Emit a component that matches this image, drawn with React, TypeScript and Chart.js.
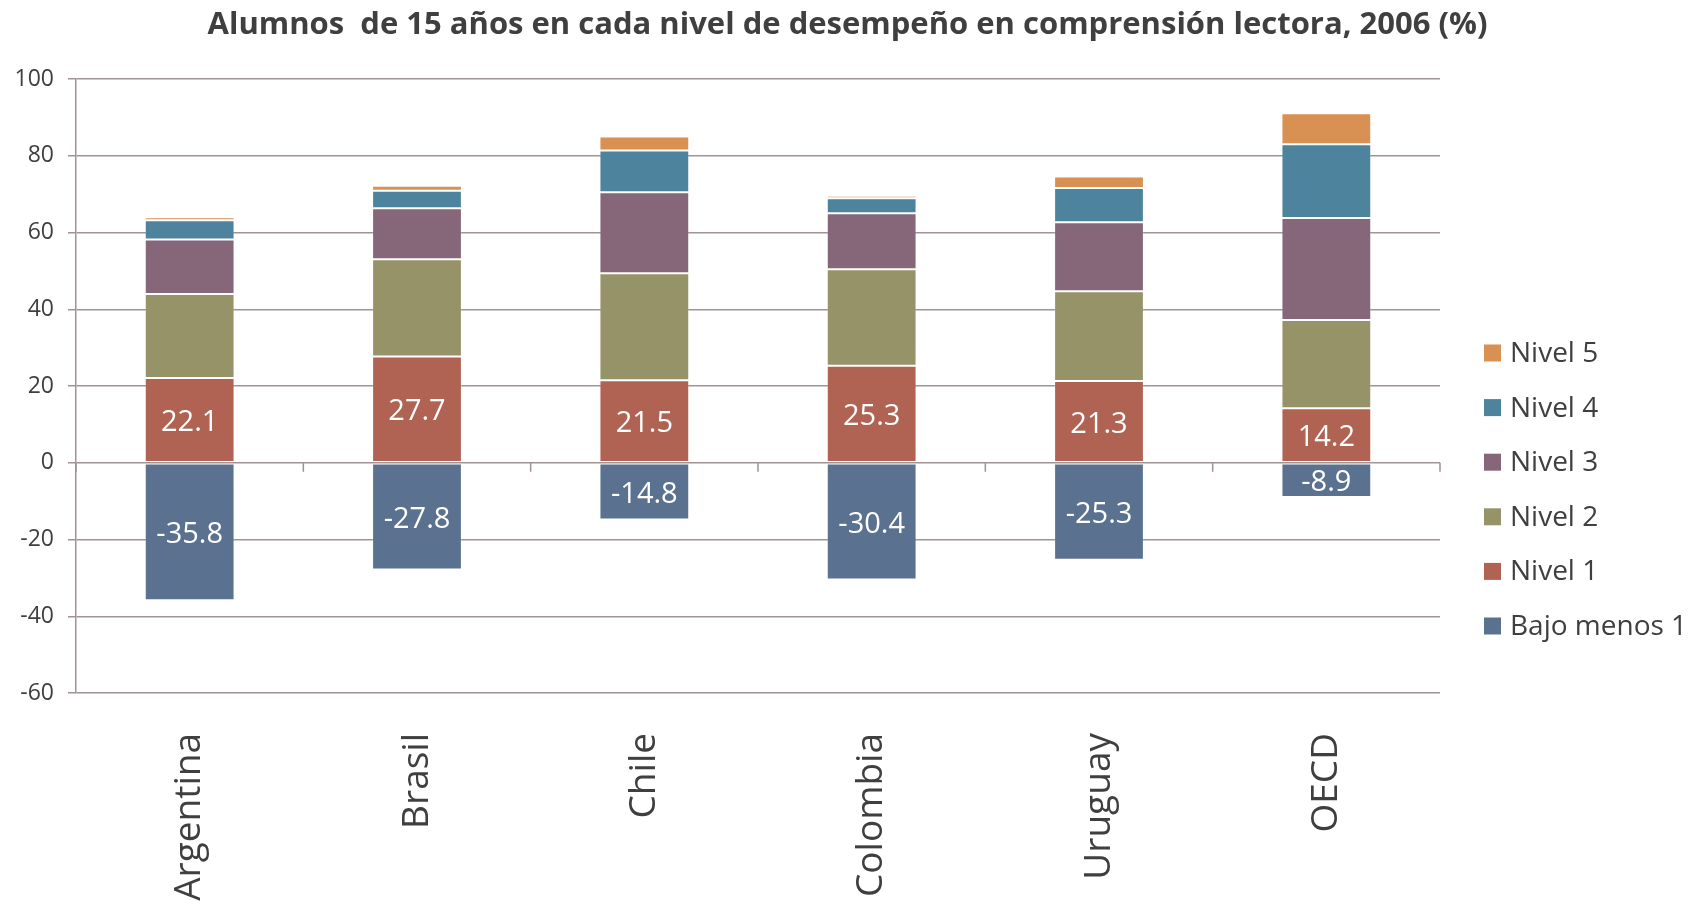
import React, { useEffect, useRef } from "react";
import { Chart, registerables } from "chart.js";
Chart.register(...registerables);

const categories = ["Argentina", "Brasil", "Chile", "Colombia", "Uruguay", "OECD"];
const bajoMenos1 = [-35.8, -27.8, -14.8, -30.4, -25.3, -8.9];
const nivel1 = [22.1, 27.7, 21.5, 25.3, 21.3, 14.2];
const nivel2 = [21.9, 25.3, 27.9, 25.1, 23.4, 23.0];
const nivel3 = [14.2, 13.3, 21.1, 14.6, 18.0, 26.6];
const nivel4 = [5.0, 4.6, 10.9, 3.9, 8.9, 19.2];
const nivel5 = [0.8, 1.3, 3.6, 0.7, 3.0, 8.1];
const seriesNames = ["Bajo menos 1", "Nivel 1", "Nivel 2", "Nivel 3", "Nivel 4", "Nivel 5"];
const seriesColors = ["#5B7190", "#B06352", "#979368", "#866779", "#4D839C", "#D89053"];
const labeledSeries = [0, 1];
const yMin = -60;
const yMax = 100;
const yStep = 20;
const titleText = "Alumnos  de 15 años en cada nivel de desempeño en comprensión lectora, 2006 (%)";

const FONT = "'Open Sans', 'Noto Sans', sans-serif";
const GRID = "#A09393";
const TEXT = "#3F3F3F";

const titlePlugin = {
  id: "customTitle",
  afterDraw(chart: any) {
    const { ctx } = chart;
    ctx.save();
    ctx.fillStyle = TEXT;
    ctx.font = `bold 31px ${FONT}`;
    ctx.textAlign = "center";
    ctx.textBaseline = "middle";
    ctx.fillText(titleText, chart.width / 2, 25);
    ctx.restore();
  },
};

const zeroTicksPlugin = {
  id: "zeroTicks",
  afterDraw(chart: any) {
    const { ctx } = chart;
    const xs = chart.scales.x;
    const ys = chart.scales.y;
    const y0 = ys.getPixelForValue(0);
    const n = categories.length;
    ctx.save();
    ctx.strokeStyle = GRID;
    ctx.lineWidth = 1.5;
    ctx.beginPath();
    for (let i = 0; i <= n; i++) {
      const x = xs.left + (i * xs.width) / n;
      ctx.moveTo(x, y0);
      ctx.lineTo(x, y0 + 9);
    }
    ctx.stroke();
    ctx.restore();
  },
};

const dataLabelPlugin = {
  id: "dataLabelsCustom",
  afterDatasetsDraw(chart: any) {
    const { ctx } = chart;
    ctx.save();
    ctx.fillStyle = "#FFFFFF";
    ctx.font = `29px ${FONT}`;
    ctx.textAlign = "center";
    ctx.textBaseline = "middle";
    labeledSeries.forEach((di) => {
      const meta = chart.getDatasetMeta(di);
      const ds = chart.data.datasets[di];
      meta.data.forEach((el: any, i: number) => {
        const v = ds.data[i] as number;
        const cy = (el.y + el.base) / 2;
        ctx.fillText(v.toFixed(1), el.x, cy + 3);
      });
    });
    ctx.restore();
  },
};

const legendPlugin = {
  id: "customLegend",
  afterDraw(chart: any) {
    const { ctx } = chart;
    const dsets = chart.data.datasets;
    ctx.save();
    ctx.font = `28px ${FONT}`;
    ctx.textBaseline = "middle";
    ctx.textAlign = "left";
    const startY = 353;
    const gap = 54.6;
    const n = dsets.length;
    for (let k = 0; k < n; k++) {
      const ds = dsets[n - 1 - k];
      const cy = startY + k * gap;
      ctx.fillStyle = ds.backgroundColor;
      ctx.fillRect(1484, cy - 8.5, 17, 17);
      ctx.fillStyle = TEXT;
      ctx.fillText(ds.label, 1510, cy + 1);
    }
    ctx.restore();
  },
};

export default function App() {
  const ref = useRef<HTMLCanvasElement | null>(null);
  useEffect(() => {
    if (!ref.current) return;
    const seriesData = [bajoMenos1, nivel1, nivel2, nivel3, nivel4, nivel5];
    const chart = new Chart(ref.current, {
      type: "bar",
      data: {
        labels: categories,
        datasets: seriesData.map((d, i) => ({
          label: seriesNames[i],
          data: d,
          backgroundColor: seriesColors[i],
          borderColor: "rgba(255,255,255,0.18)",
          borderWidth: 1,
          borderSkipped: false,
          categoryPercentage: 1,
          barPercentage: 0.395,
        })),
      },
      options: {
        animation: false,
        responsive: true,
        maintainAspectRatio: false,
        layout: { padding: { top: 79, right: 255, left: 0, bottom: 0 } },
        plugins: {
          legend: { display: false },
          tooltip: { enabled: false },
          title: { display: false },
        },
        scales: {
          x: {
            stacked: true,
            grid: { display: false, drawTicks: false },
            border: { display: false },
            ticks: {
              color: TEXT,
              font: { family: FONT, size: 37 },
              maxRotation: 90,
              minRotation: 90,
              padding: 40,
              autoSkip: false,
            },
            afterFit(scale: any) {
              scale.height = 211;
            },
          },
          y: {
            stacked: true,
            min: yMin,
            max: yMax,
            ticks: {
              stepSize: yStep,
              color: TEXT,
              font: { family: FONT, size: 23 },
              padding: 14,
            },
            grid: { color: GRID, lineWidth: 1.5, tickLength: 8, drawTicks: true },
            border: { display: true, color: GRID, width: 1.5 },
            afterFit(scale: any) {
              scale.width = 76;
            },
          },
        },
      },
      plugins: [titlePlugin, zeroTicksPlugin, dataLabelPlugin, legendPlugin],
    });
    return () => chart.destroy();
  }, []);
  return (
    <div style={{ position: "fixed", left: 0, top: 0, width: 1695, height: 904, background: "#fff" }}>
      <canvas ref={ref} />
    </div>
  );
}
